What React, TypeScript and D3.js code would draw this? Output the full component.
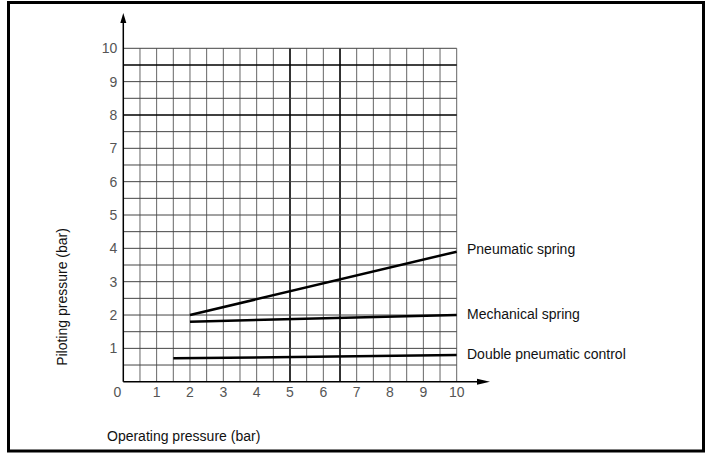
import { useEffect, useRef } from 'react';
import * as d3 from 'd3';

// Operating pressure (bar) on x, piloting pressure (bar) on y
const xTicks = [0, 1, 2, 3, 4, 5, 6, 7, 8, 9, 10];
const yTicks = [1, 2, 3, 4, 5, 6, 7, 8, 9, 10];
const gridSteps = d3.range(0, 10.01, 0.5);
const boldX = [5, 6.5];
const boldY = [8, 9.5];

const seriesNames = ['Pneumatic spring', 'Mechanical spring', 'Double pneumatic control'];
const pneumaticSpring = [[2, 2.0], [10, 3.9]];
const mechanicalSpring = [[2, 1.8], [10, 2.0]];
const doublePneumatic = [[1.5, 0.7], [10, 0.8]];
const seriesData = [pneumaticSpring, mechanicalSpring, doublePneumatic];

const W = 711;
const H = 455;
const FONT = '"Liberation Sans", Arial, sans-serif';

export default function App() {
  const svgRef = useRef<SVGSVGElement>(null);

  useEffect(() => {
    if (!svgRef.current) return;
    const svg = d3.select(svgRef.current);
    svg.selectAll('*').remove();

    const x = d3.scaleLinear().domain([0, 10]).range([123.3, 456.7]);
    const y = d3.scaleLinear().domain([0, 10]).range([381.7, 48.3]);

    // outer frame
    svg.append('rect')
      .attr('x', 8.5).attr('y', 2.5)
      .attr('width', 695).attr('height', 448.5)
      .attr('fill', '#fff')
      .attr('stroke', '#000')
      .attr('stroke-width', 3);

    const grid = svg.append('g');

    // vertical grid lines every 0.5 bar
    grid.selectAll('line.v')
      .data(gridSteps.filter((v) => v > 0))
      .join('line')
      .attr('class', 'v')
      .attr('x1', (d) => x(d)).attr('x2', (d) => x(d))
      .attr('y1', y(0)).attr('y2', y(10))
      .attr('stroke', (d) => (boldX.includes(d) ? '#000' : '#666'))
      .attr('stroke-width', (d) => (boldX.includes(d) ? 1.6 : 1));

    // horizontal grid lines every 0.5 bar
    grid.selectAll('line.h')
      .data(gridSteps.filter((v) => v > 0))
      .join('line')
      .attr('class', 'h')
      .attr('x1', x(0)).attr('x2', x(10))
      .attr('y1', (d) => y(d)).attr('y2', (d) => y(d))
      .attr('stroke', (d) => (boldY.includes(d) ? '#000' : '#444'))
      .attr('stroke-width', (d) => (boldY.includes(d) ? 1.6 : 1));

    // axes with arrows
    const axes = svg.append('g').attr('stroke', '#000').attr('stroke-width', 1.5);
    axes.append('line')
      .attr('x1', x(0)).attr('x2', x(0))
      .attr('y1', y(0)).attr('y2', 20);
    axes.append('line')
      .attr('x1', x(0)).attr('x2', 480)
      .attr('y1', y(0)).attr('y2', y(0));
    svg.append('path')
      .attr('d', `M${x(0)},13 L${x(0) - 3},23 L${x(0) + 3},23 Z`)
      .attr('fill', '#000');
    svg.append('path')
      .attr('d', `M490,${y(0)} L477,${y(0) - 3} L477,${y(0) + 3} Z`)
      .attr('fill', '#000');

    // tick labels
    const labels = svg.append('g')
      .attr('font-family', FONT)
      .attr('font-size', 14)
      .attr('fill', '#555');

    labels.selectAll('text.xt')
      .data(xTicks)
      .join('text')
      .attr('class', 'xt')
      .attr('x', (d) => (d === 0 ? x(d) - 6 : x(d)))
      .attr('y', y(0) + 15)
      .attr('text-anchor', 'middle')
      .text((d) => d);

    labels.selectAll('text.yt')
      .data(yTicks)
      .join('text')
      .attr('class', 'yt')
      .attr('x', x(0) - 6)
      .attr('y', (d) => y(d) + 5)
      .attr('text-anchor', 'end')
      .text((d) => d);

    // series lines
    const line = d3.line<number[]>().x((d) => x(d[0])).y((d) => y(d[1]));
    svg.append('g')
      .selectAll('path')
      .data(seriesData)
      .join('path')
      .attr('d', (d) => line(d))
      .attr('fill', 'none')
      .attr('stroke', '#000')
      .attr('stroke-width', 2.5);

    // series labels at the right end
    svg.append('g')
      .attr('font-family', FONT)
      .attr('font-size', 14)
      .attr('fill', '#111')
      .selectAll('text')
      .data(seriesNames)
      .join('text')
      .attr('x', 467)
      .attr('y', (_, i) => [y(3.9) + 2, y(2.0) + 4, y(0.8) + 4][i])
      .text((d) => d);

    // axis titles
    svg.append('text')
      .attr('font-family', FONT)
      .attr('font-size', 14)
      .attr('fill', '#111')
      .attr('transform', `translate(67,297) rotate(-90)`)
      .attr('text-anchor', 'middle')
      .text('Piloting pressure (bar)');

    svg.append('text')
      .attr('font-family', FONT)
      .attr('font-size', 14)
      .attr('fill', '#111')
      .attr('x', 107)
      .attr('y', 441)
      .text('Operating pressure (bar)');
  }, []);

  return (
    <svg
      ref={svgRef}
      width={W}
      height={H}
      style={{ position: 'absolute', left: 0, top: 0, background: '#fff' }}
    />
  );
}
